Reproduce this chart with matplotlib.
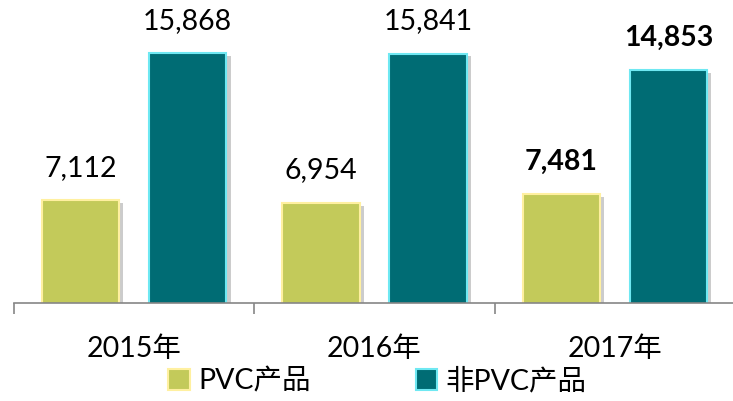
import matplotlib.pyplot as plt
import matplotlib.patheffects as pe
from matplotlib.patches import Patch
import numpy as np

plt.rcParams['font.family'] = ['Lato', 'Noto Sans CJK SC', 'DejaVu Sans']

years = ["2015年", "2016年", "2017年"]
pvc = [7112, 6954, 7481]
non_pvc = [15868, 15841, 14853]
series_names = ["PVC产品", "非PVC产品"]

fig = plt.figure(figsize=(7.33, 4.01), dpi=100)
ax = fig.add_axes([14 / 733, 98 / 401, 721 / 733, 303 / 401])

x = np.arange(len(years))
off = 0.223
w = 0.322
shadow = [pe.SimplePatchShadow(offset=(3, -2), shadow_rgbFace='#808080', alpha=0.4), pe.Normal()]

b1 = ax.bar(x - off, pvc, w, color='#C3CA5A', edgecolor='#FFF0A0', linewidth=1.5,
            path_effects=shadow)
b2 = ax.bar(x + off, non_pvc, w, color='#006C74', edgecolor='#6FE8F2', linewidth=1.5,
            path_effects=shadow)

for bars in (b1, b2):
    for i, r in enumerate(bars):
        v = r.get_height()
        ax.annotate(f"{v:,.0f}", (r.get_x() + r.get_width() / 2, v),
                    xytext=(0, 14), textcoords='offset points', ha='center', va='bottom',
                    fontsize=20.5, fontweight='bold' if i == 2 else 'normal', color='#000000')

ax.set_xlim(-0.5, 2.5)
ax.set_ylim(1000, 19035)
ax.set_yticks([])
for s in ('top', 'right', 'left'):
    ax.spines[s].set_visible(False)
ax.spines['bottom'].set_color('#868686')
ax.spines['bottom'].set_linewidth(1.2)

ax.set_xticks(x)
ax.set_xticklabels(years, fontsize=20.5)
ax.tick_params(axis='x', which='major', length=0, pad=24)
ax.set_xticks([-0.5, 0.5, 1.5, 2.5], minor=True)
ax.tick_params(axis='x', which='minor', length=8, width=1.2, color='#868686')

handles = [Patch(facecolor='#C3CA5A', edgecolor='#FFF0A0', linewidth=1.5),
           Patch(facecolor='#006C74', edgecolor='#6FE8F2', linewidth=1.5)]
fig.legend(handles, series_names, loc='lower center', bbox_to_anchor=(0.515, -0.048), ncol=2,
           frameon=False, fontsize=20.5, handlelength=0.75, handleheight=0.75,
           handletextpad=0.3, columnspacing=3.7)

fig.savefig("out.png", dpi=100)
